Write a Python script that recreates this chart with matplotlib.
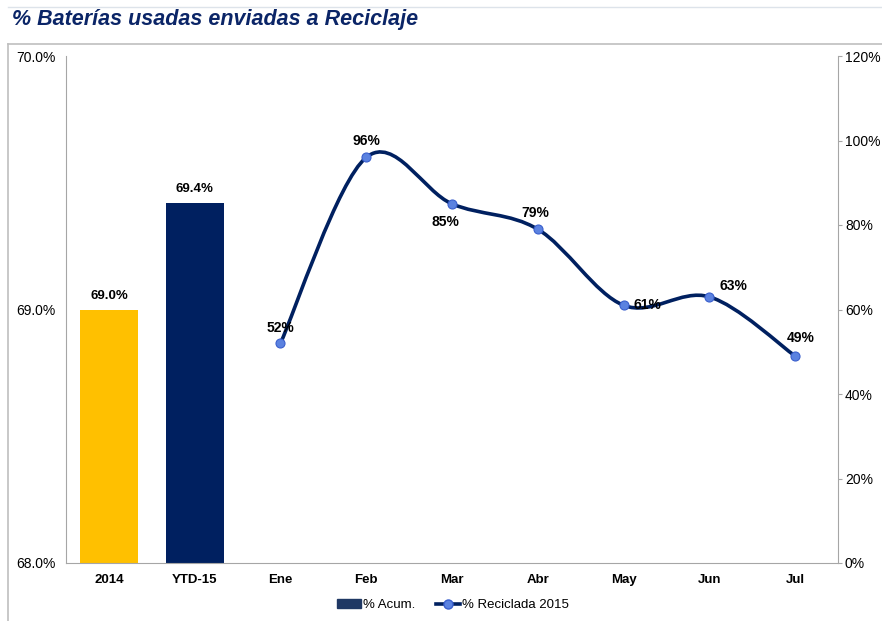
import matplotlib.pyplot as plt
import numpy as np
from matplotlib.path import Path
from matplotlib.patches import PathPatch, Rectangle
from matplotlib.lines import Line2D

categories = ["2014", "YTD-15", "Ene", "Feb", "Mar", "Abr", "May", "Jun", "Jul"]
bar_labels = ["2014", "YTD-15"]
bar_values = [69.0, 69.42]
bar_colors = ["#FFC000", "#002060"]
months = ["Ene", "Feb", "Mar", "Abr", "May", "Jun", "Jul"]
recycled = [52, 96, 85, 79, 61, 63, 49]

navy = "#002060"
plt.rcParams["font.family"] = ["Liberation Sans", "DejaVu Sans"]

fig = plt.figure(figsize=(8.82, 6.21), dpi=100)
# outer frame lines
fig.add_artist(Line2D([8 / 882, 1], [1 - 44 / 621] * 2, transform=fig.transFigure, color="#BFBFBF", lw=1.2))
fig.add_artist(Line2D([8 / 882] * 2, [0, 1 - 44 / 621], transform=fig.transFigure, color="#BFBFBF", lw=1.2))
fig.add_artist(Line2D([8 / 882, 1], [1 - 7 / 621] * 2, transform=fig.transFigure, color="#DDE3EA", lw=1))
fig.text(12 / 882, 1 - 19 / 621, "% Baterías usadas enviadas a Reciclaje", fontsize=15.5,
         fontweight="bold", fontstyle="italic", color="#0B2567", va="center", ha="left")

ax = fig.add_axes([66 / 882, 58 / 621, (838 - 66) / 882, (563 - 56) / 621])
x = np.arange(len(categories))
bx = [categories.index(c) for c in bar_labels]
ax.bar(bx, [v - 68 for v in bar_values], bottom=68, width=0.68, color=bar_colors)
for xi, v in zip(bx, bar_values):
    ax.text(xi, v + 0.03, f"{v:.1f}%", ha="center", va="bottom", fontsize=9.5, fontweight="bold")
ax.set_xlim(-0.5, len(categories) - 0.5)
ax.set_ylim(68, 70)
ax.set_yticks([68, 69, 70])
ax.set_yticklabels([f"{t:.1f}%" for t in [68, 69, 70]], fontsize=10)
ax.set_xticks(x)
ax.set_xticklabels(categories, fontsize=9.5, fontweight="bold")
ax.tick_params(axis="x", length=0, pad=8)
ax.tick_params(axis="y", length=0, pad=7.5)
for s in ["top", "right"]:
    ax.spines[s].set_visible(False)
for s in ["left", "bottom"]:
    ax.spines[s].set_color("#A6A6A6")

ax2 = ax.twinx()
ax2.set_ylim(0, 120)
ax2.set_yticks(range(0, 121, 20))
ax2.set_yticklabels([f"{t}%" for t in range(0, 121, 20)], fontsize=10)
ax2.tick_params(axis="y", length=3, color="#A6A6A6", pad=2)
for s in ["top", "left", "bottom"]:
    ax2.spines[s].set_visible(False)
ax2.spines["right"].set_color("#A6A6A6")

mx = np.array([categories.index(m) for m in months], dtype=float)
my = np.array(recycled, dtype=float)
# smoothed line as Catmull-Rom Bezier segments (Excel-like)
verts = [(mx[0], my[0])]
codes = [Path.MOVETO]
n = len(mx)
for i in range(n - 1):
    p0 = (mx[max(i - 1, 0)], my[max(i - 1, 0)])
    p1 = (mx[i], my[i])
    p2 = (mx[i + 1], my[i + 1])
    p3 = (mx[min(i + 2, n - 1)], my[min(i + 2, n - 1)])
    c1 = (p1[0] + (p2[0] - p0[0]) / 6, p1[1] + (p2[1] - p0[1]) / 6)
    c2 = (p2[0] - (p3[0] - p1[0]) / 6, p2[1] - (p3[1] - p1[1]) / 6)
    verts += [c1, c2, p2]
    codes += [Path.CURVE4] * 3
ax2.add_patch(PathPatch(Path(verts, codes), facecolor="none", edgecolor=navy, lw=2.6, zorder=3))
ax2.plot(mx, my, ls="none", marker="o", ms=6.5, mfc="#5B82E0", mec="#3A5FCD", mew=0.8, zorder=4)

offsets = {"Ene": (0, 11), "Feb": (0, 12), "Mar": (-5, -13), "Abr": (-2, 12),
           "May": (17, 0), "Jun": (17, 8), "Jul": (4, 13)}
for m, xv, yv in zip(months, mx, my):
    dx, dy = offsets[m]
    ax2.annotate(f"{int(yv)}%", (xv, yv), xytext=(dx, dy), textcoords="offset points",
                 ha="center", va="center", fontsize=10, fontweight="bold")

handles = [Rectangle((0, 0), 1, 1, color="#1F3864"),
           Line2D([], [], color=navy, lw=2.6, marker="o", ms=6.5, mfc="#5B82E0", mec="#3A5FCD")]
fig.legend(handles, ["% Acum.", "% Reciclada 2015"], loc="center", bbox_to_anchor=(453 / 882, 1 - 605 / 621),
           ncol=2, frameon=False, handlelength=1.8, handletextpad=0.15, columnspacing=1.6,
           prop={"family": "Liberation Sans", "size": 9.5})

fig.savefig("out.png", dpi=100)
